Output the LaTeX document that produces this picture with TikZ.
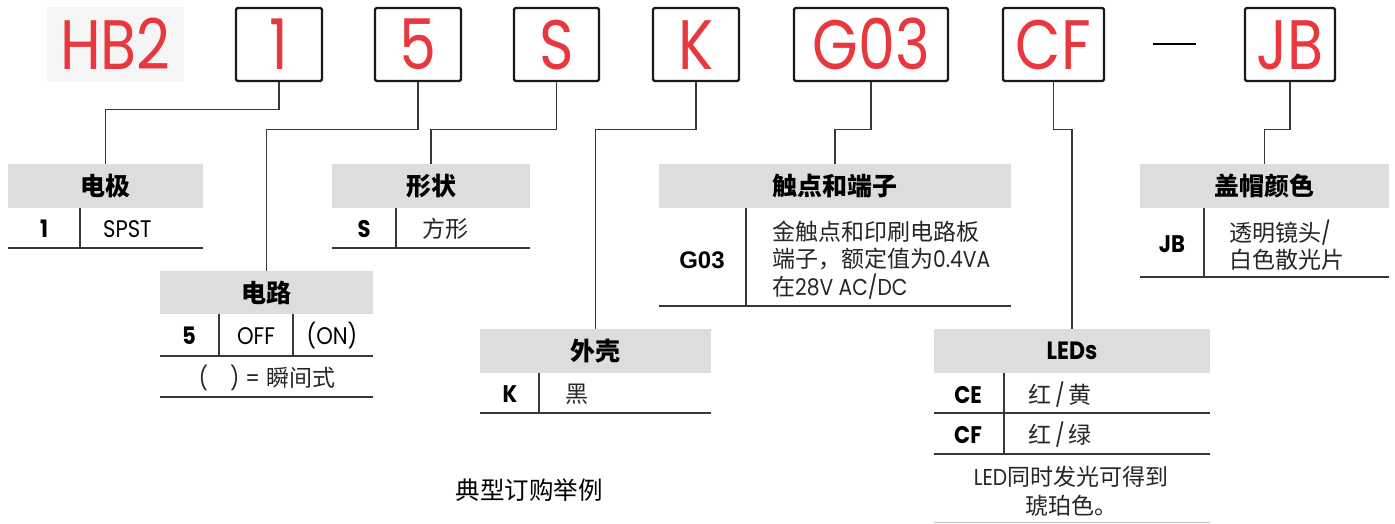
\documentclass[tikz,border=0pt]{standalone}
\usepackage{fontspec}
\setmainfont{Noto Sans CJK SC}
\newfontfamily\lat{Poppins}[FakeStretch=0.88]
\newfontfamily\codefont{Poppins}[FakeStretch=0.84]
\newfontfamily\arial{Liberation Sans}
\usepackage{xcolor}
\definecolor{codered}{HTML}{E8383D}
\definecolor{headgray}{HTML}{DCDDDD}
\definecolor{linegray}{HTML}{3A3636}
\definecolor{hbgray}{HTML}{F5F5F5}

\begin{document}
\begin{tikzpicture}[x=1pt,y=-1pt,
		codebox/.style={draw=black!90,line width=2.4pt,rounded corners=1.5pt,minimum height=73pt,inner sep=0pt,
			text height=50pt,text depth=-2pt,font=\codefont\fontsize{70}{70}\selectfont,text=codered},
		head/.style={fill=headgray,minimum height=44pt,inner sep=0pt,font=\bfseries\fontsize{25}{25}\selectfont},
		code/.style={inner sep=0pt,font=\lat\bfseries\fontsize{24}{24}\selectfont},
		val/.style={inner sep=0pt,font=\lat\fontsize{24}{24}\selectfont},
		desc/.style={inner sep=0pt,anchor=west,align=left,text=black!85,font=\fontsize{23}{27.5}\selectfont},
		rule/.style={draw=linegray,line width=1.2pt},
		conn/.style={draw=linegray,line width=1.1pt}]
		\fill[white] (0,0) rectangle (1395,524);
		
		\node[fill=hbgray,minimum width=137pt,minimum height=75pt,inner sep=0pt,text=codered,
		text height=50pt,text depth=-2pt,font=\codefont\fontsize{70}{70}\selectfont] (hb) at (115.5,44.5) {HB2};
		\node[codebox,minimum width=86pt] (b1) at (279,44.5) {1};
		\node[codebox,minimum width=86pt] (b5) at (418,44.5) {5};
		\node[codebox,minimum width=85pt] (bS) at (556.5,44.5) {S};
		\node[codebox,minimum width=86pt] (bK) at (696,44.5) {K};
		\node[codebox,minimum width=154pt] (bG) at (871,44.5) {G03};
		\node[codebox,minimum width=101pt] (bCF) at (1053.5,44.5) {CF};
		\node[inner sep=0pt] (dash) at (1174.5,44) {\rule{43pt}{2.4pt}};
		\node[codebox,minimum width=90pt] (bJB) at (1290,44.5) {JB};
		
		% headers
		\node[head,minimum width=195pt] (h1) at (105.5,186) {电极};
		\node[head,minimum width=198pt] (h2) at (431,186) {形状};
		\node[head,minimum width=213pt,minimum height=43pt] (h3) at (266.5,292.5) {电路};
		\node[head,minimum width=231pt] (h4) at (595.5,351) {外壳};
		\node[head,minimum width=352pt] (h5) at (835,186) {触点和端子};
		\node[head,minimum width=276pt] (h6) at (1072,351) {\lat\bfseries LEDs};
		\node[head,minimum width=249pt] (h7) at (1264.5,186) {盖帽颜色};
		
		% connectors
		\draw[conn] (b1.south) -- ++(0,27) -| (h1.north);
		\draw[conn] (b5.south) -- ++(0,47) -| (h3.north);
		\draw[conn] (bS.south) -- ++(0,47) -| (h2.north);
		\draw[conn] (bK.south) -- ++(0,47) -| (h4.north);
		\draw[conn] (bG.south) -- ++(0,47) -| (h5.north);
		\draw[conn] (bCF.south) -- ++(0,47) -| (h6.north);
		\draw[conn] (bJB.south) -- ++(0,47) -| (h7.north);
		
		% 电极
		\node[code] (c1) at (44,229) {1};
		\node[val,anchor=west] (v1) at (103,229) {SPST};
		\draw[rule] (80,208) -- (80,248);
		\draw[rule] (8,248) -- (203,248);
		
		% 形状
		\node[code] (cS) at (364,229) {S};
		\node[desc] (vS) at (422,229) {方形};
		\draw[rule] (396,208) -- (396,248);
		\draw[rule] (332,248) -- (530,248);
		
		% 电路
		\node[code] (c5) at (189,336) {5};
		\node[val] (v5a) at (256,336) {OFF};
		\node[val] (v5b) at (332,336) {(ON)};
		\draw[rule] (219,314) -- (219,356);
		\draw[rule] (293,314) -- (293,356);
		\draw[rule] (160,356) -- (373,356);
		\node[desc,anchor=center] (n5) at (267,378) {{\lat(\hspace{22pt})\hspace{6pt}=\hspace{6pt}}瞬间式};
		\draw[rule] (160,397) -- (373,397);
		
		% 外壳
		\node[code] (cK) at (510,394) {K};
		\node[desc] (vK) at (565,394) {黑};
		\draw[rule] (539,373) -- (539,413);
		\draw[rule] (480,413) -- (711,413);
		
		% 触点和端子
		\node[inner sep=0pt,font=\arial\bfseries\fontsize{24}{24}\selectfont] (cG) at (702,260) {G03};
		\node[desc] (vG) at (772,260) {金触点和印刷电路板\\端子，额定值为{\lat 0.4VA}\\在{\lat 28V AC/DC}};
		\draw[rule] (746,208) -- (746,306);
		\draw[rule] (659,306) -- (1011,306);
		
		% LEDs
		\node[code] (cCE) at (968,395) {CE};
		\node[desc] (vCE) at (1028,395) {红{\lat\,/\,}黄};
		\draw[rule] (934,413) -- (1210,413);
		\node[code] (cCF) at (968,435) {CF};
		\node[desc] (vCF) at (1028,435) {红{\lat\,/\,}绿};
		\draw[rule] (1004,373) -- (1004,454);
		\draw[rule] (934,454) -- (1210,454);
		\node[desc,anchor=center,align=center,font=\fontsize{23}{29}\selectfont] (nLED) at (1071,491.5) {{\lat LED}同时发光可得到\\琥珀色。};
		\draw[draw=black!25,line width=1.2pt] (934,522.5) -- (1210,522.5);
		
		% 盖帽颜色
		\node[code] (cJB) at (1172,244) {JB};
		\node[desc] (vJB) at (1229,245) {透明镜头{\lat /}\\白色散光片};
		\draw[rule] (1204,208) -- (1204,277);
		\draw[rule] (1140,277) -- (1389,277);
		
		\node[inner sep=0pt,font=\fontsize{24.5}{24.5}\selectfont] (cap) at (529,490) {典型订购举例};
	\end{tikzpicture}
\end{document}
